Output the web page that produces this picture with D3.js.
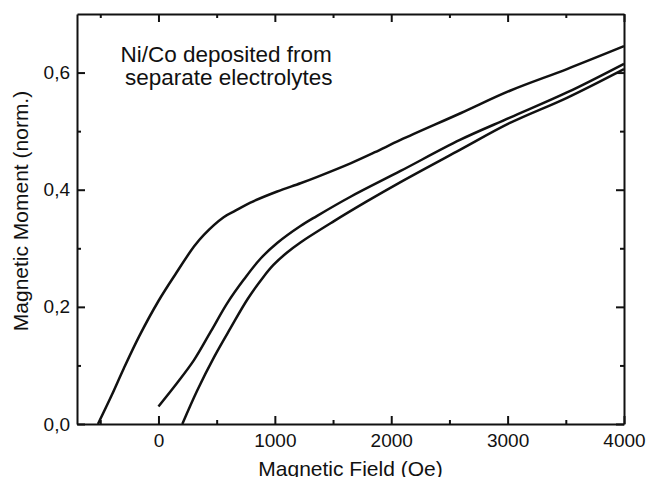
<!DOCTYPE html>
<html>
<head>
<meta charset="utf-8">
<script src="https://cdn.jsdelivr.net/npm/d3@7"></script>
<style>
  body { margin: 0; background: #fff; }
  text { font-family: "Liberation Sans", Arial, sans-serif; fill: #111; }
  .axis path, .axis line { stroke: #111; stroke-width: 2; }
  .axis text { font-size: 19px; }
</style>
</head>
<body>
<svg id="chart" width="648" height="477"></svg>
<script>
// data (field in Oe, moment normalised)
const upperField  = [-520, -400, -300, -165, 0, 150, 305, 390, 560, 650, 790, 1020, 1220, 1365, 1650, 1860, 2080, 2600, 3020, 3510, 4000];
const upperMoment = [0, 0.050, 0.094, 0.150, 0.210, 0.257, 0.303, 0.323, 0.353, 0.363, 0.378, 0.397, 0.411, 0.422, 0.445, 0.464, 0.485, 0.531, 0.569, 0.606, 0.645];

const middleField  = [0, 160, 305, 450, 590, 735, 880, 1020, 1220, 1360, 1650, 2080, 2590, 3020, 3510, 4000];
const middleMoment = [0.030, 0.070, 0.109, 0.158, 0.206, 0.247, 0.283, 0.309, 0.338, 0.355, 0.388, 0.432, 0.485, 0.523, 0.566, 0.615];

const lowerField  = [205, 335, 480, 620, 765, 905, 990, 1100, 1220, 1505, 1790, 2080, 2590, 3020, 3510, 4000];
const lowerMoment = [0, 0.058, 0.115, 0.164, 0.213, 0.252, 0.272, 0.292, 0.310, 0.346, 0.380, 0.413, 0.468, 0.514, 0.557, 0.606];

const xMajor = [0, 1000, 2000, 3000, 4000];
const xMinor = [-500, 500, 1500, 2500, 3500];
const yMajor = [0, 0.2, 0.4, 0.6];
const yMinor = [0.1, 0.3, 0.5];

// SETUP
const margin = { top: 14, right: 24, bottom: 53, left: 77 },
      width = 648 - margin.left - margin.right,
      height = 477 - margin.top - margin.bottom;

const svg = d3.select("#chart");
const g = svg.append("g")
    .attr("transform", `translate(${margin.left},${margin.top})`);

// SCALES
const x = d3.scaleLinear().domain([-700, 4000]).range([0, width]);
const y = d3.scaleLinear().domain([0, 0.7]).range([height, 0]);

const line = d3.line()
    .x(d => x(d[0]))
    .y(d => y(d[1]))
    .curve(d3.curveCatmullRom.alpha(0.5));

const series = [
    d3.zip(upperField, upperMoment),
    d3.zip(middleField, middleMoment),
    d3.zip(lowerField, lowerMoment)
];

g.selectAll(".curve")
    .data(series)
    .enter()
    .append("path")
    .attr("class", "curve")
    .attr("d", line)
    .attr("fill", "none")
    .attr("stroke", "#111")
    .attr("stroke-width", 2.5)
    .attr("stroke-linejoin", "round");

// AXES (ticks point inward, minor ticks shorter)
const fmtY = d => d.toFixed(1).replace(".", ",");

function addAxis(axisFn, scale, pos, major, minor, labels, fmt) {
    const grp = g.append("g").attr("class", "axis").attr("transform", pos);
    grp.call(axisFn(scale).tickValues(minor).tickSizeInner(-4).tickSizeOuter(0).tickFormat(""));
    grp.append("g").call(axisFn(scale).tickValues(major).tickSizeInner(-8).tickSizeOuter(0)
        .tickPadding(axisFn === d3.axisBottom ? 10 : 7)
        .tickFormat(labels ? fmt : ""))
        .call(s => s.select(".domain").remove());
}

addAxis(d3.axisBottom, x, `translate(0,${height})`, xMajor, xMinor, true, d3.format("d"));
addAxis(d3.axisTop, x, "translate(0,0)", xMajor, xMinor, false);
addAxis(d3.axisLeft, y, "translate(0,0)", yMajor, yMinor, true, fmtY);
addAxis(d3.axisRight, y, `translate(${width},0)`, yMajor, yMinor, false);

g.selectAll(".axis text").attr("fill", "#111");

// LABELS
svg.append("text")
    .attr("x", margin.left + width / 2)
    .attr("y", 476)
    .attr("text-anchor", "middle")
    .style("font-size", "21px")
    .text("Magnetic Field (Oe)");

svg.append("text")
    .attr("transform", "translate(28,211) rotate(-90)")
    .attr("text-anchor", "middle")
    .style("font-size", "21px")
    .text("Magnetic Moment (norm.)");

svg.append("text")
    .attr("x", 120.5)
    .attr("y", 61.7)
    .style("font-size", "22.5px")
    .text("Ni/Co deposited from");

svg.append("text")
    .attr("x", 125)
    .attr("y", 84.5)
    .style("font-size", "22.5px")
    .text("separate electrolytes");
</script>
</body>
</html>
